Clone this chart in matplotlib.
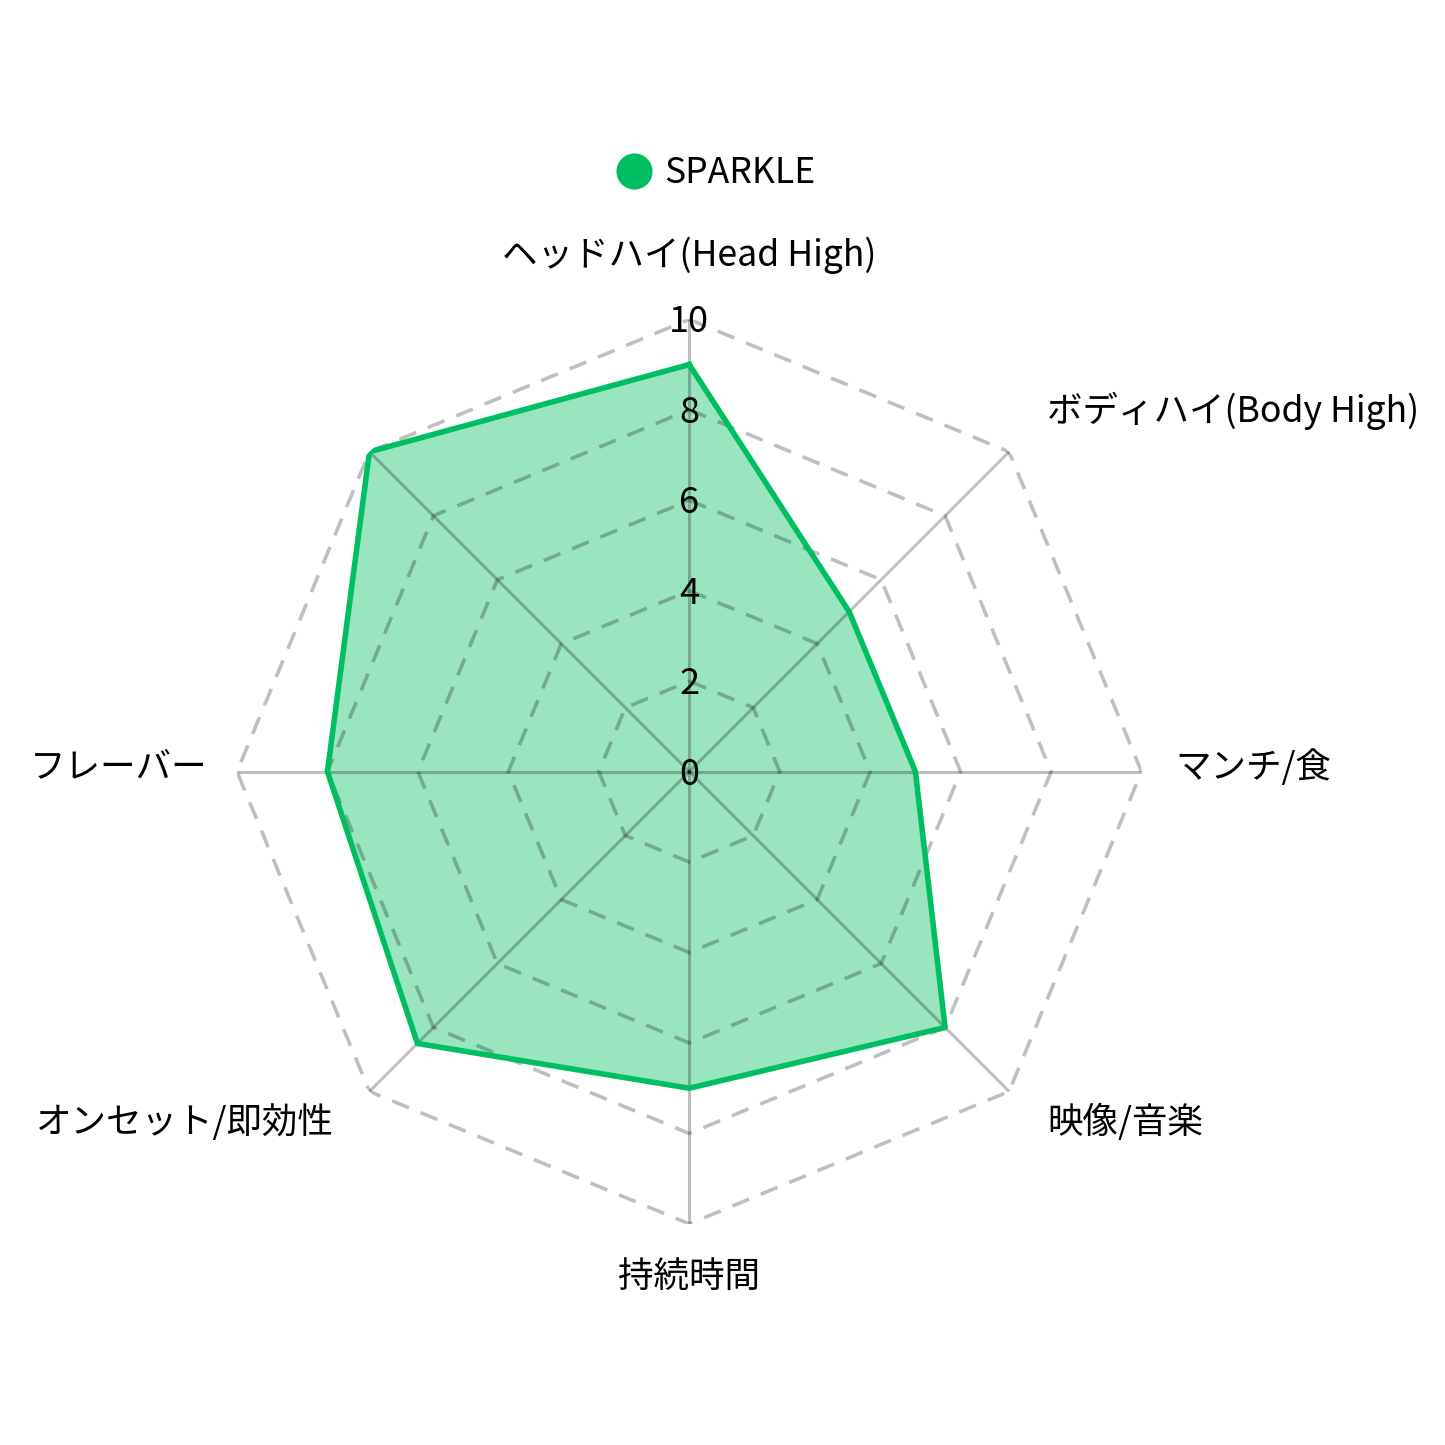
import numpy as np
import matplotlib.pyplot as plt

plt.rcParams['font.family'] = ['Noto Sans CJK JP', 'DejaVu Sans']

labels = ["ヘッドハイ(Head High)", "ボディハイ(Body High)", "マンチ/食", "映像/音楽",
          "持続時間", "オンセット/即効性", "フレーバー", ""]
values = [9, 5, 5, 8, 7, 8.5, 8, 10]
series_name = "SPARKLE"
ticks = [0, 2, 4, 6, 8, 10]

GREEN = "#00BF63"


def main():
    fig = plt.figure(figsize=(7.225, 7.225), dpi=200)
    ax = fig.add_axes([0.164, 0.153, 0.626, 0.626], projection='polar')
    ax.set_theta_zero_location('N')
    ax.set_theta_direction(-1)

    n = len(labels)
    theta = np.arange(n) * 2 * np.pi / n
    theta_c = np.append(theta, theta[0])

    vals = np.append(values, values[0])
    ax.fill(theta_c, vals, color=GREEN, alpha=0.4, lw=0, zorder=1)

    # octagon grid, drawn over the fill
    for t in ticks[1:]:
        ax.plot(theta_c, [t] * (n + 1), color='black', alpha=0.25, lw=1.3,
                ls=(0, (5, 3.5)), zorder=2)
    for th in theta:
        ax.plot([th, th], [0, ticks[-1]], color='black', alpha=0.25, lw=1.1, zorder=2)

    ax.plot(theta_c, vals, color=GREEN, lw=2, zorder=3, label=series_name)

    ax.set_ylim(0, ticks[-1])
    ax.grid(False)
    ax.spines['polar'].set_visible(False)
    ax.set_xticks([])
    ax.set_yticks([])

    for t in ticks:
        ax.annotate(str(t), xy=(0, t), xytext=(0, -3), textcoords='offset pixels',
                    ha='center', va='center', fontsize=13, zorder=4)

    offsets = [(0, 64, 'center'), (38, 41, 'left'), (34, 4, 'left'), (38, -31, 'left'),
               (0, -53, 'center'), (-36, -31, 'right'), (-30, 4, 'right'), (0, 0, 'center')]
    for th, lab, (dx, dy, ha) in zip(theta, labels, offsets):
        if lab:
            ax.annotate(lab, xy=(th, ticks[-1]), xytext=(dx, dy), textcoords='offset pixels',
                        ha=ha, va='center', fontsize=12.8)

    h = plt.Line2D([], [], marker='o', color=GREEN, ls='none', markersize=12)
    fig.legend([h], [series_name], loc='center', bbox_to_anchor=(0.492, 0.880),
               frameon=False, fontsize=12.8, handletextpad=0.05, handlelength=1.6)

    fig.savefig('out.png', dpi=200)


if __name__ == "__main__":
    main()
